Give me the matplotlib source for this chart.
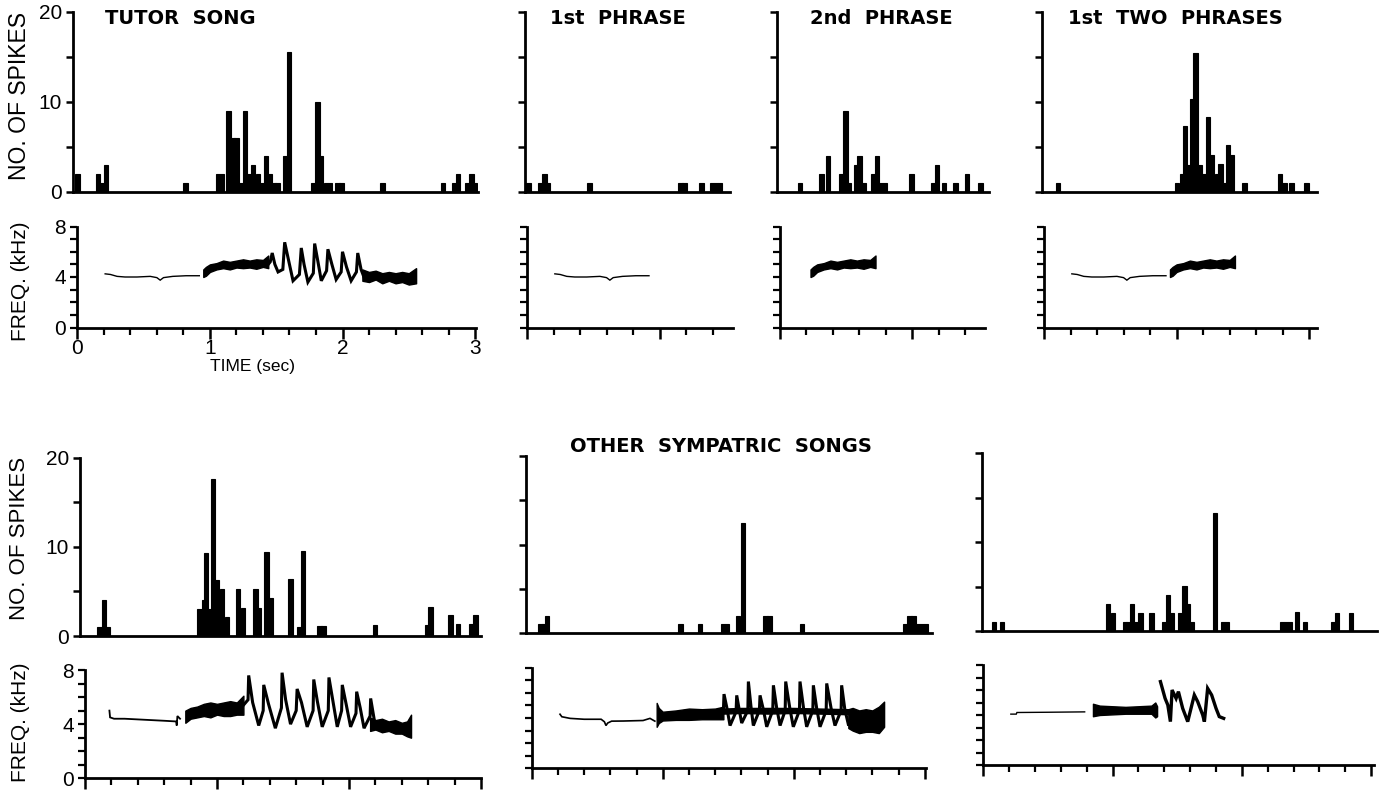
import numpy as np
import matplotlib.pyplot as plt
from matplotlib.ticker import MultipleLocator

plt.rcParams['font.family'] = ['Liberation Sans', 'DejaVu Sans']

W, H = 1387, 793
BIN = 0.033   # histogram bin width (s)

# ---------------- spike histograms (bin left edge in s, count) ----------------
tutor_t = [-0.015, 0.141, 0.168, 0.198, 0.80, 1.045, 1.075, 1.125, 1.155, 1.185, 1.22,
           1.25, 1.28, 1.31, 1.346, 1.376, 1.406, 1.434, 1.464, 1.494, 1.55, 1.58,
           1.765, 1.795, 1.82, 1.857, 1.887, 1.947, 1.977, 2.286, 2.74, 2.825, 2.855,
           2.925, 2.98, 2.955]
tutor_n = [2, 2, 1, 3, 1, 2, 2, 9, 6, 6, 1, 9, 2, 3, 2, 1, 4, 2, 1, 1, 4, 15.5,
           1, 10, 4, 1, 1, 1, 1, 1, 1, 1, 2, 1, 1, 2]

phr1_t = [-0.005, 0.085, 0.115, 0.143, 0.455, 1.141, 1.17, 1.30, 1.38, 1.41, 1.44]
phr1_n = [1, 1, 2, 1, 1, 1, 1, 1, 1, 1, 1]

phr2_t = [0.137, 0.30, 0.35, 0.451, 0.481, 0.507, 0.562, 0.587, 0.62, 0.688, 0.72,
          0.75, 0.78, 0.979, 1.14, 1.173, 1.223, 1.311, 1.399, 1.499]
phr2_n = [1, 2, 4, 2, 9, 1, 3, 4, 1, 2, 4, 1, 1, 2, 1, 3, 1, 1, 2, 1]

two_t = [0.09, 0.988, 1.026, 1.046, 1.081, 1.101, 1.126, 1.156, 1.189, 1.222, 1.252,
         1.29, 1.314, 1.345, 1.373, 1.403, 1.495, 1.762, 1.797, 1.85, 1.963]
two_n = [1, 1, 2, 7.3, 3, 10.3, 15.4, 3, 2, 8.3, 4.1, 2, 3.1, 1, 5.2, 4.1, 1, 2, 1, 1, 1]

oth1_t = [0.093, 0.127, 0.159, 0.851, 0.884, 0.902, 0.934, 0.952, 0.985, 1.023, 1.061,
          1.144, 1.179, 1.275, 1.30, 1.358, 1.389, 1.54, 1.604, 1.634, 1.76, 1.79,
          2.18, 2.576, 2.601, 2.752, 2.808, 2.909, 2.942]
oth1_n = [1, 4, 1, 3, 4, 9.3, 3, 17.6, 6.3, 5.3, 2.1, 5.3, 3.1, 5.3, 3.1, 9.4, 4.3,
          6.4, 1, 9.5, 1.1, 1.1, 1.2, 1.2, 3.3, 2.3, 1.3, 1.3, 2.3]

oth2_t = [0.05, 0.075, 0.10, 1.119, 1.267, 1.443, 1.473, 1.56, 1.595, 1.768, 1.798,
          2.048, 2.837, 2.867, 2.897, 2.931, 2.964, 2.994]
oth2_n = [1, 1, 2, 1, 1, 1, 1, 2, 12.4, 2, 2, 1, 1, 2, 2, 1, 1, 1]

oth3_t = [0.065, 0.129, 0.949, 0.985, 1.078, 1.105, 1.135, 1.165, 1.199, 1.284, 1.38,
          1.413, 1.444, 1.508, 1.539, 1.568, 1.599, 1.774, 1.838, 1.868, 2.295, 2.325,
          2.355, 2.411, 2.47, 2.69, 2.72, 2.83]
oth3_n = [1, 1, 3, 2, 1, 1, 3, 1, 2, 2, 1, 4.1, 2, 2, 5.1, 3, 1, 13.3, 1, 1, 1, 1,
          1, 2.1, 1, 1, 2, 2]

# ---------------- frequency traces (s, kHz) ----------------
tutor_flat_t = [0.21, 0.25, 0.30, 0.36, 0.45, 0.55, 0.60, 0.625, 0.65, 0.72, 0.82, 0.92]
tutor_flat_f = [4.25, 4.2, 4.05, 4.0, 4.0, 4.05, 3.95, 3.75, 3.95, 4.05, 4.1, 4.1]
tutor_band_t = [0.95, 0.97, 1.00, 1.05, 1.10, 1.15, 1.20, 1.25, 1.30, 1.35, 1.40, 1.44]
tutor_band_lo = [4.0, 4.1, 4.4, 4.6, 4.7, 4.6, 4.75, 4.7, 4.75, 4.65, 4.8, 4.7]
tutor_band_hi = [4.6, 4.8, 5.0, 5.1, 5.3, 5.2, 5.3, 5.4, 5.3, 5.4, 5.35, 5.7]
tutor_saw_t = [1.44, 1.455, 1.47, 1.49, 1.514, 1.55, 1.564, 1.6, 1.627, 1.675, 1.689,
               1.71, 1.739, 1.78, 1.79, 1.815, 1.84, 1.88, 1.89, 1.92, 1.952, 1.99,
               2.0, 2.03, 2.065, 2.105, 2.115, 2.14, 2.165]
tutor_saw_f = [5.0, 5.2, 5.9, 5.0, 4.4, 4.6, 6.75, 5.0, 3.7, 4.2, 6.3, 5.0, 3.6, 4.3,
               6.65, 5.2, 3.7, 4.5, 6.2, 5.0, 3.8, 4.4, 6.0, 4.8, 3.7, 4.4, 5.9, 4.6, 3.9]
tutor_end_t = [2.15, 2.2, 2.25, 2.3, 2.35, 2.4, 2.45, 2.5, 2.555]
tutor_end_lo = [3.7, 3.6, 3.8, 3.5, 3.7, 3.5, 3.6, 3.4, 3.5]
tutor_end_hi = [4.6, 4.4, 4.5, 4.3, 4.4, 4.3, 4.4, 4.3, 4.7]
phr2_shift = -0.716

s1_flat_t = [0.185, 0.19, 0.22, 0.3, 0.4, 0.5, 0.6, 0.69, 0.695, 0.70, 0.72]
s1_flat_f = [5.0, 4.5, 4.4, 4.4, 4.35, 4.3, 4.25, 4.2, 3.9, 4.6, 4.4]
s1_band_t = [0.76, 0.8, 0.85, 0.9, 0.95, 1.0, 1.05, 1.1, 1.15, 1.2]
s1_band_lo = [4.1, 4.4, 4.5, 4.6, 4.5, 4.7, 4.6, 4.6, 4.7, 4.7]
s1_band_hi = [5.0, 5.2, 5.3, 5.5, 5.6, 5.5, 5.6, 5.7, 5.6, 6.1]
s1_saw_t = [1.20, 1.235, 1.24, 1.27, 1.316, 1.35, 1.354, 1.39, 1.442, 1.488, 1.493,
            1.52, 1.557, 1.60, 1.607, 1.64, 1.683, 1.728, 1.733, 1.76, 1.797, 1.843,
            1.848, 1.88, 1.911, 1.944, 1.949, 1.98, 2.012, 2.053, 2.058, 2.085, 2.114,
            2.16, 2.164, 2.19]
s1_saw_f = [5.4, 5.8, 7.6, 5.6, 3.9, 5.0, 6.9, 5.5, 3.7, 5.2, 7.8, 5.8, 4.0, 5.0, 6.6,
            5.6, 3.8, 5.0, 7.3, 5.7, 3.8, 5.0, 7.45, 5.6, 3.8, 5.0, 6.9, 5.4, 3.8, 4.8,
            6.4, 5.2, 3.7, 4.6, 5.9, 4.4]
s1_end_t = [2.16, 2.2, 2.25, 2.3, 2.35, 2.4, 2.44, 2.47]
s1_end_lo = [3.5, 3.6, 3.4, 3.5, 3.3, 3.3, 3.1, 3.0]
s1_end_hi = [4.5, 4.3, 4.4, 4.2, 4.3, 4.1, 4.2, 4.7]

s2_flat_t = [0.216, 0.23, 0.293, 0.4, 0.53, 0.555, 0.567, 0.58, 0.61, 0.7, 0.85, 0.903, 0.94]
s2_flat_f = [4.3, 4.1, 3.97, 3.9, 3.9, 3.7, 3.4, 3.6, 3.75, 3.76, 3.8, 3.97, 3.75]
s2_band_t = [0.954, 0.97, 1.0, 1.1, 1.2, 1.3, 1.4, 1.463]
s2_band_lo = [3.3, 3.6, 3.8, 3.85, 3.85, 3.9, 3.9, 3.9]
s2_band_hi = [5.2, 4.8, 4.5, 4.6, 4.75, 4.7, 4.75, 4.9]
s2_saw_t = [1.463, 1.468, 1.49, 1.514, 1.56, 1.565, 1.585, 1.603, 1.65, 1.654, 1.675,
            1.692, 1.738, 1.743, 1.77, 1.794, 1.84, 1.845, 1.87, 1.896, 1.935, 1.939,
            1.97, 1.997, 2.044, 2.048, 2.075, 2.099, 2.146, 2.15, 2.175, 2.201, 2.248,
            2.252, 2.285, 2.315, 2.362, 2.366, 2.39, 2.417]
s2_saw_f = [4.5, 5.9, 4.8, 3.4, 4.5, 5.8, 4.6, 3.6, 4.6, 6.9, 4.8, 3.4, 4.6, 5.8, 4.6,
            3.3, 4.6, 6.6, 4.8, 3.4, 4.6, 6.9, 4.8, 3.3, 4.6, 6.9, 4.8, 3.3, 4.6, 6.6,
            4.8, 3.3, 4.6, 6.75, 4.8, 3.4, 4.6, 6.6, 4.7, 3.5]
s2_mid_t = [1.463, 1.6, 1.8, 2.0, 2.2, 2.417]
s2_mid_lo = [4.35, 4.4, 4.35, 4.4, 4.35, 4.3]
s2_mid_hi = [4.75, 4.8, 4.8, 4.8, 4.75, 4.7]
s2_end_t = [2.417, 2.45, 2.5, 2.55, 2.6, 2.65, 2.69]
s2_end_lo = [3.2, 3.0, 2.8, 2.9, 2.9, 2.8, 3.3]
s2_end_hi = [4.7, 4.8, 4.6, 4.7, 4.6, 4.9, 5.3]

s3_flat_t = [0.213, 0.255, 0.26, 0.5, 0.784]
s3_flat_f = [4.07, 4.07, 4.2, 4.22, 4.25]
s3_band_t = [0.848, 0.9, 1.0, 1.1, 1.2, 1.3, 1.33, 1.344]
s3_band_lo = [3.9, 4.0, 4.05, 4.1, 4.1, 4.1, 3.8, 3.9]
s3_band_hi = [4.9, 4.75, 4.7, 4.65, 4.7, 4.75, 5.0, 4.7]
s3_saw_t = [1.37, 1.406, 1.427, 1.447, 1.46, 1.491, 1.509, 1.542, 1.581, 1.632, 1.658,
            1.697, 1.71, 1.735, 1.766, 1.8, 1.825, 1.859]
s3_saw_f = [6.67, 5.33, 4.8, 3.47, 6.0, 5.33, 5.87, 4.53, 3.47, 5.6, 5.07, 4.0, 3.47,
            6.13, 5.6, 4.53, 3.87, 3.73]

# ---------------- layout (pixel boxes) ----------------
fig = plt.figure(figsize=(W / 100, H / 100), dpi=100)


def axes_px(left, right, top, bottom):
    ax = fig.add_axes([left / W, 1 - bottom / H, (right - left) / W, (bottom - top) / H])
    ax.patch.set_visible(False)
    for side in ['top', 'right']:
        ax.spines[side].set_visible(False)
    for side in ['left', 'bottom']:
        ax.spines[side].set_linewidth(2.0)
    return ax


def hist_panel(left, right, top, bottom, x0, s, t, n, labels=False):
    ax = axes_px(left, right, top, bottom)
    ax.bar(t, n, width=BIN, align='edge', color='black', edgecolor='black', linewidth=0.8)
    ax.set_xlim((left - x0) / s, (right - x0) / s)
    ax.set_ylim(0, 20)
    ax.set_xticks([])
    ax.yaxis.set_major_locator(MultipleLocator(10))
    ax.yaxis.set_minor_locator(MultipleLocator(5))
    ax.tick_params(axis='y', which='both', direction='out', length=5, width=1.8,
                   labelsize=15, pad=3)
    if not labels:
        ax.set_yticklabels([])
    return ax


def freq_panel(left, right, top, bottom, x0, s, labels=False):
    ax = axes_px(left, right, top, bottom)
    ax.set_xlim((left - x0) / s, (right - x0) / s)
    ax.set_ylim(0, 8)
    ax.yaxis.set_major_locator(MultipleLocator(4))
    ax.yaxis.set_minor_locator(MultipleLocator(1))
    ax.xaxis.set_major_locator(MultipleLocator(1))
    ax.xaxis.set_minor_locator(MultipleLocator(0.2))
    ax.tick_params(axis='y', which='both', direction='out', length=5, width=1.6,
                   labelsize=15, pad=3)
    ax.tick_params(axis='x', which='major', direction='out', length=8, width=1.8,
                   labelsize=15, pad=0)
    ax.tick_params(axis='x', which='minor', direction='out', length=5, width=1.6)
    if not labels:
        ax.set_yticklabels([])
        ax.set_xticklabels([])
    return ax


def line(ax, t, f, lw, shift=0.0):
    ax.plot(np.array(t) + shift, f, color='black', lw=lw, solid_joinstyle='miter')


def band(ax, t, lo, hi, shift=0.0):
    ax.fill_between(np.array(t) + shift, lo, hi, color='black', lw=1.0)


# top row
hist_panel(73, 478, 11.5, 191.5, 77.3, 132.6, tutor_t, tutor_n, labels=True)
hist_panel(525, 730, 11.5, 191.5, 527, 132.6, phr1_t, phr1_n)
hist_panel(777.3, 989, 11.5, 191.5, 779.5, 132.6, phr2_t, phr2_n)
hist_panel(1041.7, 1317, 11.5, 191.5, 1044, 132.6, two_t, two_n)

ax = freq_panel(77.3, 476, 226.5, 327.5, 77.3, 132.6, labels=True)
ax.set_xticks([0, 1, 2, 3])
ax.set_xticklabels(['0', '1', '2', '3'])
line(ax, tutor_flat_t, tutor_flat_f, 1.0)
band(ax, tutor_band_t, tutor_band_lo, tutor_band_hi)
line(ax, tutor_saw_t, tutor_saw_f, 2.2)
band(ax, tutor_end_t, tutor_end_lo, tutor_end_hi)

ax = freq_panel(527, 733, 226.5, 327.5, 527, 132.6)
line(ax, tutor_flat_t, tutor_flat_f, 1.0)

ax = freq_panel(779.5, 985, 226.5, 327.5, 779.5, 132.6)
band(ax, tutor_band_t, tutor_band_lo, tutor_band_hi, shift=phr2_shift)

ax = freq_panel(1044, 1317, 226.5, 327.5, 1044, 132.6)
line(ax, tutor_flat_t, tutor_flat_f, 1.0)
band(ax, tutor_band_t, tutor_band_lo, tutor_band_hi)

# bottom row
hist_panel(80, 481, 457.7, 636, 85, 132, oth1_t, oth1_n, labels=True)
hist_panel(526, 931.7, 455.7, 633.3, 531.7, 131, oth2_t, oth2_n)
hist_panel(981.7, 1376.7, 453.3, 631, 983.3, 129.3, oth3_t, oth3_n)

ax = freq_panel(85, 481, 670, 778.3, 85, 132, labels=True)
ax.set_xticklabels([])
line(ax, s1_flat_t, s1_flat_f, 1.3)
band(ax, s1_band_t, s1_band_lo, s1_band_hi)
line(ax, s1_saw_t, s1_saw_f, 2.2)
band(ax, s1_end_t, s1_end_lo, s1_end_hi)

ax = freq_panel(531.7, 926, 667.7, 768.3, 531.7, 131)
line(ax, s2_flat_t, s2_flat_f, 1.2)
band(ax, s2_band_t, s2_band_lo, s2_band_hi)
band(ax, s2_mid_t, s2_mid_lo, s2_mid_hi)
line(ax, s2_saw_t, s2_saw_f, 2.2)
band(ax, s2_end_t, s2_end_lo, s2_end_hi)

ax = freq_panel(983.3, 1374.3, 665, 765, 983.3, 129.3)
line(ax, s3_flat_t, s3_flat_f, 1.0)
band(ax, s3_band_t, s3_band_lo, s3_band_hi)
line(ax, s3_saw_t, s3_saw_f, 2.4)

# ---------------- text ----------------
def ftext(x, y, s, **kw):
    fig.text(x / W, 1 - y / H, s, **kw)

title_kw = dict(fontsize=14, fontweight='bold', va='center', ha='left',
                family=['DejaVu Sans'])
ftext(105, 18, 'TUTOR  SONG', **title_kw)
ftext(550, 18, '1st  PHRASE', **title_kw)
ftext(810, 18, '2nd  PHRASE', **title_kw)
ftext(1068, 18, '1st  TWO  PHRASES', **title_kw)
ftext(570, 447, 'OTHER  SYMPATRIC  SONGS', **title_kw)

ftext(20, 96, 'NO. OF SPIKES', fontsize=16.5, rotation=90, va='center', ha='center')
ftext(21, 281, 'FREQ. (kHz)', fontsize=15, rotation=90, va='center', ha='center')
ftext(20, 538, 'NO. OF SPIKES', fontsize=16, rotation=90, va='center', ha='center')
ftext(21, 722, 'FREQ. (kHz)', fontsize=15, rotation=90, va='center', ha='center')
ftext(252, 366, 'TIME (sec)', fontsize=12.5, va='center', ha='center')

fig.savefig('out.png', dpi=100)
